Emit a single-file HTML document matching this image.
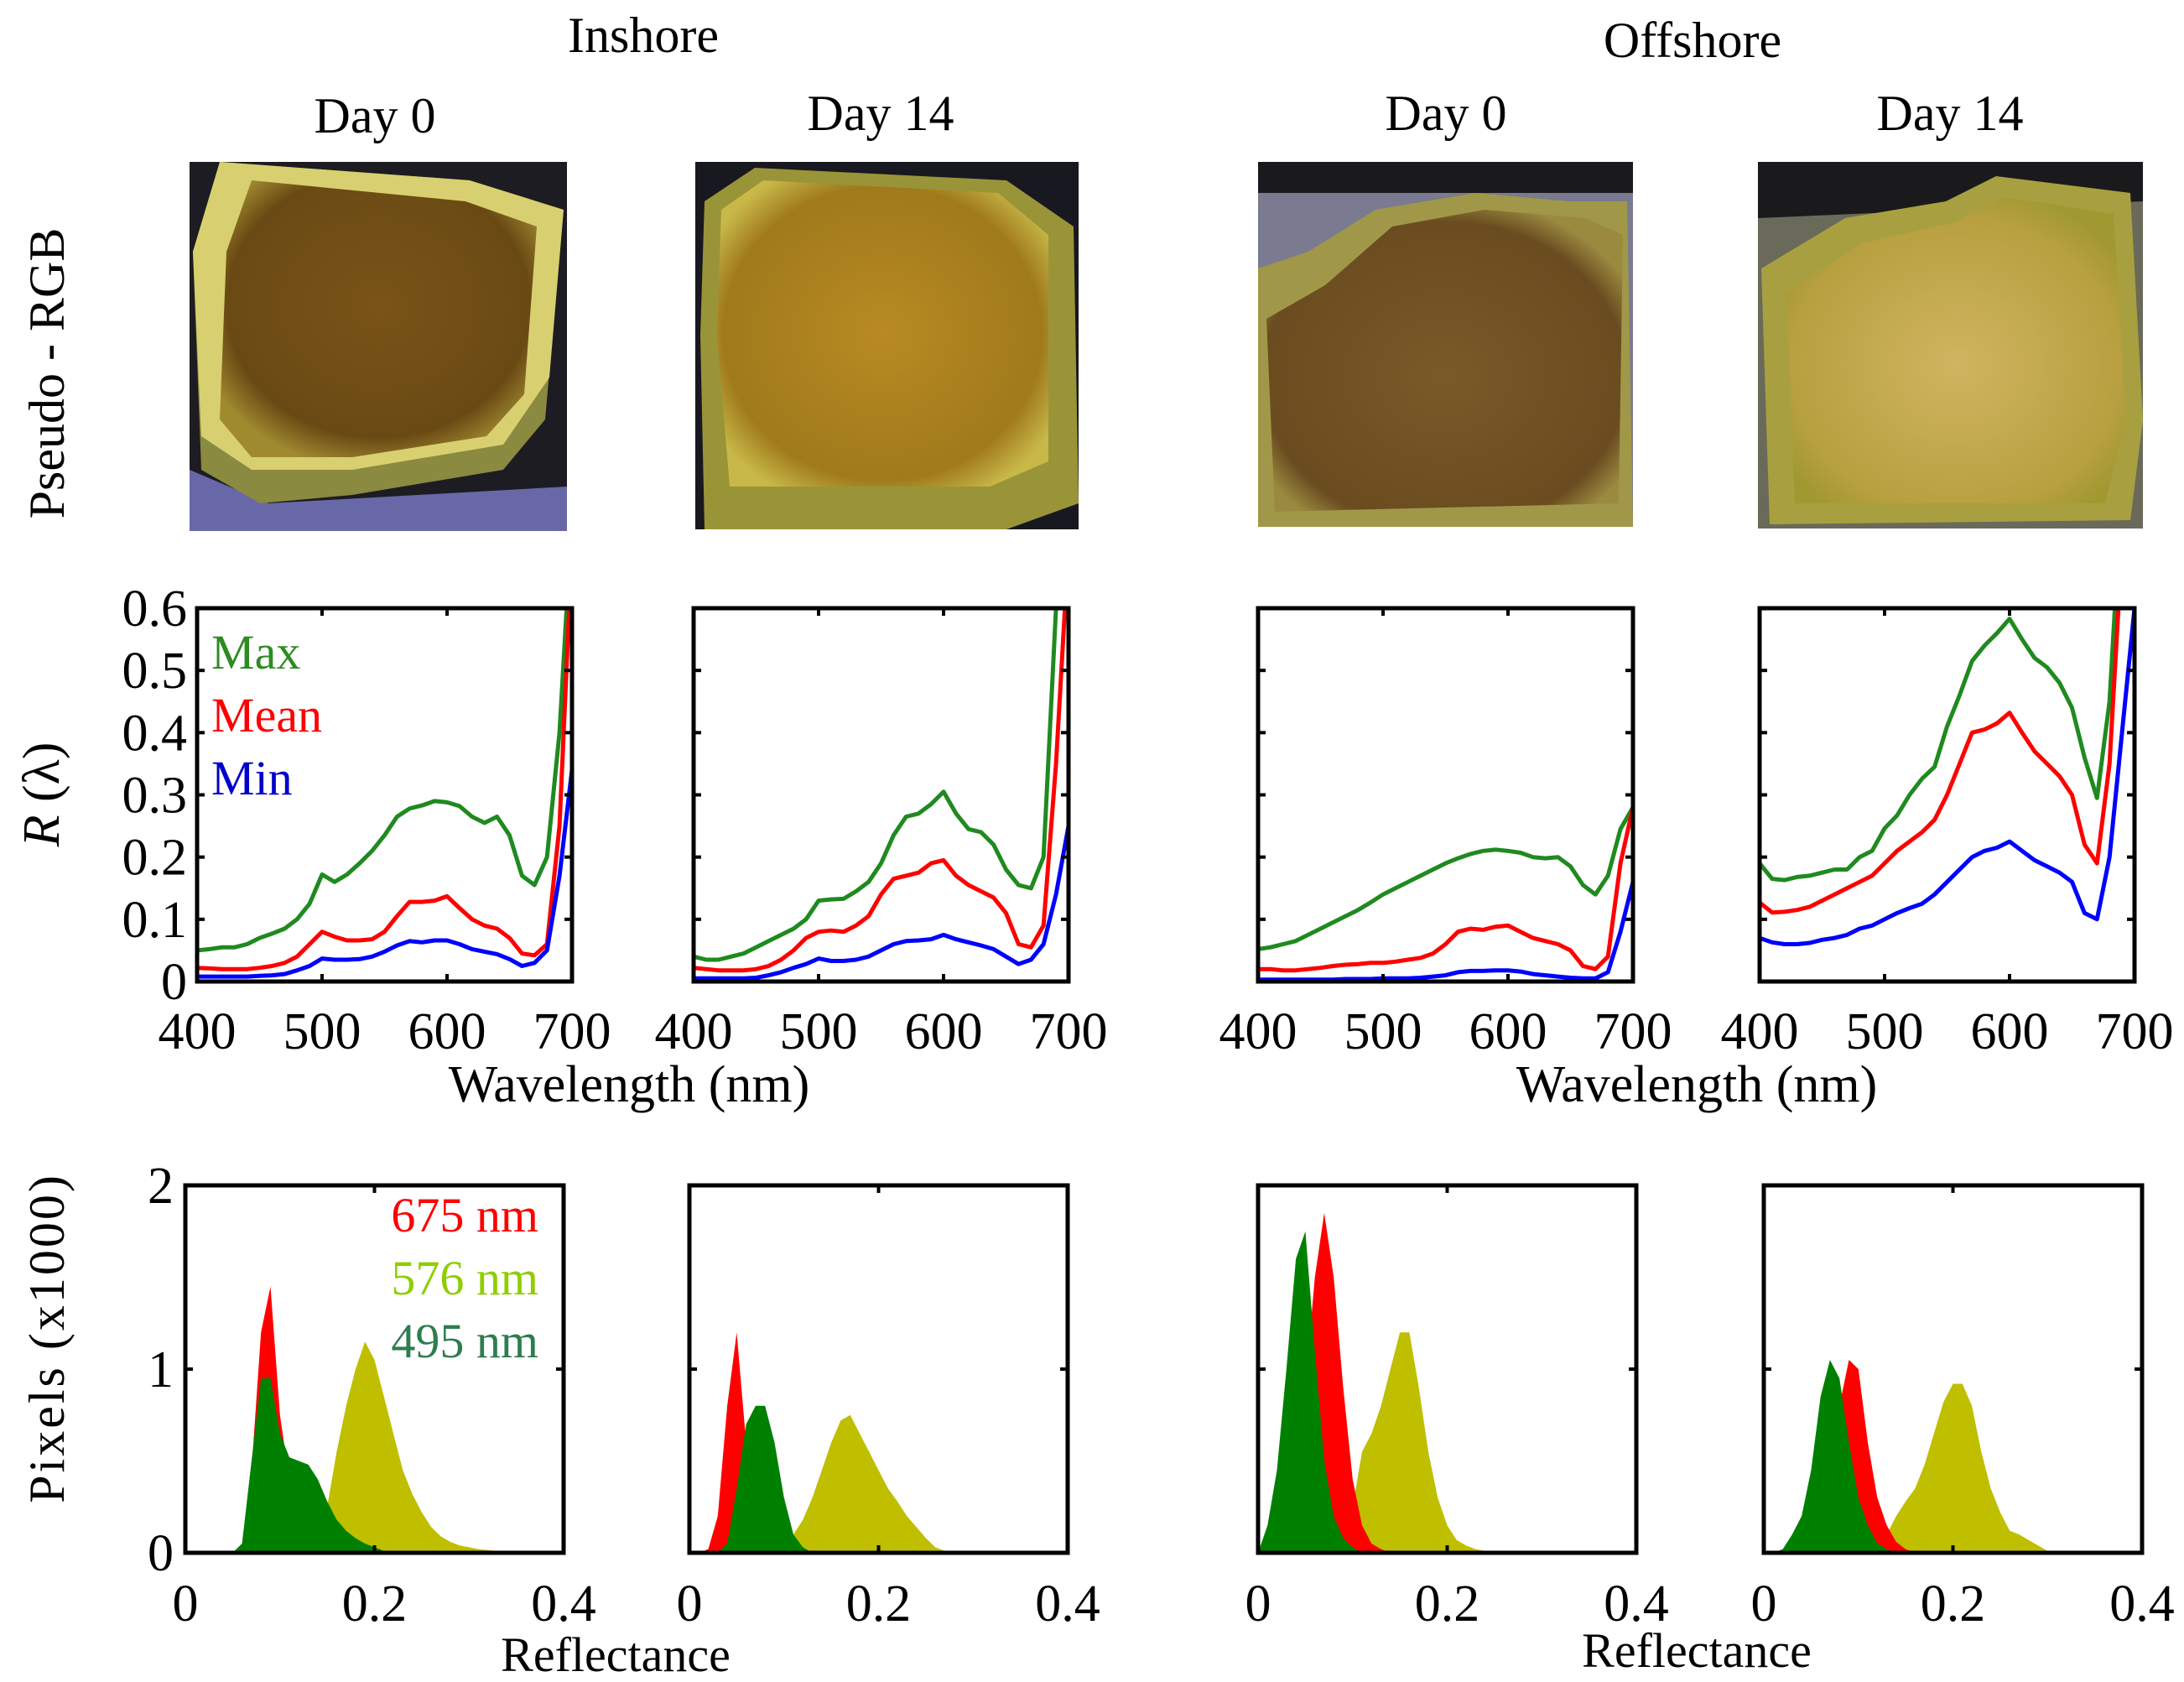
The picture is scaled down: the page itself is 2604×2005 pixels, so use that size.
<!DOCTYPE html>
<html><head><meta charset="utf-8">
<style>
html,body{margin:0;padding:0;background:#fff;}
svg{display:block;font-family:"Liberation Serif",serif;}
</style></head>
<body>
<svg id="fig" width="2604" height="2005" viewBox="0 0 2604 2005" xmlns="http://www.w3.org/2000/svg">
<defs>
<radialGradient id="g1" cx="50%" cy="45%" r="60%"><stop offset="0" stop-color="#7a5418"/><stop offset="0.8" stop-color="#6a4a14"/><stop offset="1" stop-color="#a08a30"/></radialGradient>
<radialGradient id="g2" cx="50%" cy="50%" r="60%"><stop offset="0" stop-color="#b88a22"/><stop offset="0.8" stop-color="#a07a1c"/><stop offset="1" stop-color="#c8b848"/></radialGradient>
<radialGradient id="g3" cx="50%" cy="55%" r="60%"><stop offset="0" stop-color="#7a5a28"/><stop offset="0.85" stop-color="#6a4c20"/><stop offset="1" stop-color="#9a8a40"/></radialGradient>
<radialGradient id="g4" cx="50%" cy="55%" r="60%"><stop offset="0" stop-color="#d0b460"/><stop offset="0.8" stop-color="#b8a040"/><stop offset="1" stop-color="#a09830"/></radialGradient>
</defs>

<!-- headings -->
<text x="767" y="62" font-size="60" text-anchor="middle">Inshore</text>
<text x="2018" y="68" font-size="60" text-anchor="middle">Offshore</text>
<text x="447" y="158" font-size="60" text-anchor="middle">Day 0</text>
<text x="1050" y="155" font-size="60" text-anchor="middle">Day 14</text>
<text x="1724" y="155" font-size="60" text-anchor="middle">Day 0</text>
<text x="2325" y="155" font-size="60" text-anchor="middle">Day 14</text>
<text transform="translate(76,445) rotate(-90)" font-size="60" text-anchor="middle">Pseudo - RGB</text>

<!-- photos -->
<g>
<rect x="226" y="193" width="450" height="440" fill="#1c1c22"/>
<polygon points="226,560 320,600 676,580 676,633 226,633" fill="#6868a8"/>
<polygon points="262,193 560,215 672,250 650,500 600,560 420,590 310,600 240,560 230,300" fill="#8a8a40"/>
<polygon points="262,193 560,215 672,250 655,450 600,530 420,560 300,560 240,520 230,300" fill="#d8d070"/>
<polygon points="300,215 555,240 640,270 625,470 580,520 420,545 300,545 262,500 270,300" fill="url(#g1)"/>
</g>
<g>
<rect x="829" y="193" width="457" height="438" fill="#181820"/>
<polygon points="840,240 900,200 1200,215 1280,270 1286,600 1200,631 840,631 835,400" fill="#9a9438"/>
<polygon points="860,250 910,215 1190,230 1250,280 1250,550 1180,580 870,580 855,400" fill="url(#g2)"/>
</g>
<g>
<rect x="1500" y="193" width="447" height="435" fill="#1a1a1e"/>
<polygon points="1500,230 1947,230 1947,628 1500,628" fill="#7a7a90"/>
<polygon points="1500,320 1560,300 1640,250 1760,230 1870,240 1940,240 1947,628 1500,628" fill="#a09848"/>
<polygon points="1510,380 1580,340 1660,270 1770,250 1890,260 1935,280 1930,600 1520,610" fill="url(#g3)"/>
</g>
<g>
<rect x="2096" y="193" width="459" height="437" fill="#1a1a1c"/>
<polygon points="2096,260 2555,240 2555,630 2096,630" fill="#6a6a5a"/>
<polygon points="2100,320 2200,260 2320,240 2380,210 2540,230 2555,500 2540,620 2110,625" fill="#a8a040"/>
<polygon points="2130,350 2220,290 2330,265 2390,235 2520,255 2535,500 2510,600 2140,600" fill="url(#g4)"/>
</g>

<g id="spectral"></g>
<g id="hist"></g>

<!-- axis titles -->
<text transform="translate(70,947) rotate(-90)" font-size="62" text-anchor="middle"><tspan font-style="italic">R</tspan> (λ)</text>
<text x="750" y="1313" font-size="62" text-anchor="middle">Wavelength (nm)</text>
<text x="2023" y="1313" font-size="62" text-anchor="middle">Wavelength (nm)</text>
<text transform="translate(76,1595) rotate(-90)" font-size="60" text-anchor="middle" letter-spacing="3">Pixels (x1000)</text>
<text x="734" y="1992" font-size="58" text-anchor="middle">Reflectance</text>
<text x="2023" y="1987" font-size="58" text-anchor="middle">Reflectance</text>

<!-- legends -->
<text x="252" y="797" font-size="58" fill="#2e8b22">Max</text>
<text x="252" y="872" font-size="58" fill="#ff0000">Mean</text>
<text x="252" y="947" font-size="58" fill="#0000cc">Min</text>
<text x="642" y="1468" font-size="58" fill="#ff0000" text-anchor="end">675 nm</text>
<text x="642" y="1543" font-size="58" fill="#8fce00" text-anchor="end">576 nm</text>
<text x="642" y="1618" font-size="58" fill="#2e7d4f" text-anchor="end">495 nm</text>
</svg>

<script>
// ---------- spectral data (R at 400..700 nm, step 10) ----------
const wavelengths = [400,410,420,430,440,450,460,470,480,490,500,510,520,530,540,550,560,570,580,590,600,610,620,630,640,650,660,670,680,690,700];
const specXTicks = [400,500,600,700];
const specYTicks = [0,0.1,0.2,0.3,0.4,0.5,0.6];
const specYTickLabels = ["0","0.1","0.2","0.3","0.4","0.5","0.6"];

const s1Max  = [0.05,0.052,0.055,0.055,0.06,0.07,0.077,0.085,0.1,0.125,0.172,0.16,0.172,0.19,0.21,0.235,0.265,0.278,0.283,0.29,0.288,0.282,0.265,0.255,0.265,0.235,0.17,0.155,0.2,0.4,0.75];
const s1Mean = [0.022,0.021,0.02,0.02,0.02,0.022,0.025,0.03,0.04,0.06,0.08,0.072,0.066,0.066,0.068,0.08,0.105,0.128,0.128,0.13,0.137,0.118,0.1,0.09,0.085,0.07,0.045,0.042,0.06,0.25,0.7];
const s1Min  = [0.008,0.008,0.008,0.008,0.008,0.009,0.01,0.012,0.018,0.025,0.037,0.035,0.035,0.036,0.04,0.048,0.058,0.065,0.063,0.066,0.066,0.06,0.052,0.048,0.044,0.036,0.025,0.03,0.05,0.17,0.34];

const s2Max  = [0.04,0.035,0.035,0.04,0.045,0.055,0.065,0.075,0.085,0.1,0.13,0.132,0.133,0.145,0.16,0.19,0.235,0.265,0.27,0.285,0.305,0.27,0.245,0.24,0.22,0.18,0.155,0.15,0.2,0.6,0.9];
const s2Mean = [0.022,0.02,0.018,0.018,0.018,0.02,0.025,0.035,0.05,0.07,0.08,0.082,0.08,0.09,0.105,0.14,0.165,0.17,0.175,0.19,0.195,0.17,0.155,0.145,0.135,0.11,0.06,0.055,0.09,0.35,0.7];
const s2Min  = [0.005,0.005,0.005,0.005,0.005,0.006,0.01,0.015,0.022,0.028,0.037,0.033,0.033,0.035,0.04,0.05,0.06,0.065,0.066,0.068,0.075,0.068,0.063,0.058,0.052,0.04,0.028,0.035,0.06,0.14,0.25];

const s3Max  = [0.052,0.055,0.06,0.065,0.075,0.085,0.095,0.105,0.115,0.127,0.14,0.15,0.16,0.17,0.18,0.19,0.198,0.205,0.21,0.212,0.21,0.207,0.2,0.198,0.2,0.185,0.155,0.14,0.17,0.245,0.28];
const s3Mean = [0.02,0.02,0.018,0.018,0.02,0.022,0.025,0.027,0.028,0.03,0.03,0.032,0.035,0.038,0.045,0.06,0.08,0.085,0.083,0.088,0.09,0.08,0.07,0.065,0.06,0.05,0.025,0.02,0.04,0.19,0.28];
const s3Min  = [0.003,0.003,0.003,0.003,0.003,0.003,0.003,0.004,0.004,0.004,0.005,0.005,0.005,0.006,0.008,0.01,0.015,0.017,0.017,0.018,0.018,0.016,0.012,0.01,0.008,0.006,0.005,0.005,0.015,0.08,0.16];

const s4Max  = [0.19,0.165,0.163,0.168,0.17,0.175,0.18,0.18,0.2,0.21,0.246,0.267,0.3,0.326,0.345,0.41,0.46,0.515,0.54,0.56,0.583,0.55,0.52,0.505,0.48,0.44,0.36,0.295,0.45,0.8,1.0];
const s4Mean = [0.127,0.111,0.112,0.115,0.12,0.13,0.14,0.15,0.16,0.17,0.19,0.21,0.225,0.24,0.26,0.3,0.35,0.4,0.405,0.415,0.432,0.4,0.37,0.35,0.33,0.3,0.22,0.19,0.35,0.7,1.0];
const s4Min  = [0.07,0.063,0.06,0.06,0.062,0.067,0.07,0.075,0.085,0.09,0.1,0.11,0.118,0.125,0.14,0.16,0.18,0.2,0.21,0.215,0.225,0.21,0.195,0.185,0.175,0.16,0.11,0.1,0.2,0.4,0.6];

// ---------- histogram data (counts x1000, bins at 0,0.01,...,0.40) ----------
const histXTicks = [0,0.2,0.4];
const histXTickLabels = ["0","0.2","0.4"];
const histYTicks = [0,1,2];
const h1Red    = [0,0,0,0,0,0,0.05,0.45,1.2,1.45,0.75,0.4,0.2,0.1,0.05,0.02,0];
const h1Yellow = [0,0,0,0,0,0,0,0,0,0,0,0,0,0,0.05,0.25,0.55,0.8,1.0,1.15,1.05,0.85,0.65,0.45,0.32,0.22,0.14,0.09,0.06,0.04,0.03,0.02,0.015,0.01,0.008,0.005,0];
const h1Green  = [0,0,0,0,0,0,0.05,0.5,0.95,0.95,0.65,0.52,0.5,0.48,0.4,0.28,0.18,0.12,0.08,0.05,0.03,0.01,0];
const h2Red    = [0,0,0.02,0.2,0.8,1.2,0.6,0.2,0.05,0];
const h2Yellow = [0,0,0,0,0,0,0,0,0,0,0.02,0.1,0.18,0.3,0.45,0.6,0.72,0.75,0.65,0.55,0.45,0.35,0.28,0.2,0.14,0.08,0.03,0.01,0];
const h2Green  = [0,0,0,0,0.05,0.35,0.7,0.8,0.8,0.6,0.3,0.1,0.03,0];
const h3Red    = [0,0,0,0,0.3,0.9,1.5,1.85,1.5,0.9,0.4,0.15,0.05,0.02,0];
const h3Yellow = [0,0,0,0,0,0,0,0,0,0.05,0.25,0.55,0.65,0.8,1.0,1.2,1.2,0.9,0.55,0.3,0.15,0.07,0.04,0.02,0.01,0.005,0];
const h3Green  = [0,0.15,0.45,1.0,1.6,1.75,1.1,0.5,0.2,0.08,0.03,0];
const h4Red    = [0,0,0,0,0,0,0,0.3,0.8,1.05,1.0,0.6,0.3,0.15,0.06,0.02,0];
const h4Yellow = [0,0,0,0,0,0,0,0,0,0,0,0,0,0.1,0.2,0.28,0.35,0.48,0.65,0.82,0.92,0.92,0.8,0.55,0.35,0.22,0.12,0.1,0.07,0.04,0.01,0];
const h4Green  = [0,0,0.02,0.1,0.2,0.45,0.85,1.05,0.95,0.6,0.3,0.15,0.05,0.02,0];

const NS = "http://www.w3.org/2000/svg";
function mk(tag, attrs, parent){
  const e = document.createElementNS(NS, tag);
  for (const k in attrs) e.setAttribute(k, attrs[k]);
  parent.appendChild(e);
  return e;
}
function scale(d0,d1,r0,r1){ return v => r0 + (v-d0)/(d1-d0)*(r1-r0); }

function drawAxesBox(g, L, R, T, B){
  const box = mk("rect", {x:L, y:T, width:R-L, height:B-T, fill:"none", stroke:"#000", "stroke-width":5}, g);
  
  
}

// ---------- spectral panels ----------
const specPanels = [
  {L:235,R:682,name:"spectra-inshore-day0",  mx:s1Max,mn:s1Mean,mi:s1Min, ylab:true},
  {L:827,R:1274,name:"spectra-inshore-day14",mx:s2Max,mn:s2Mean,mi:s2Min, ylab:false},
  {L:1500,R:1947,name:"spectra-offshore-day0",mx:s3Max,mn:s3Mean,mi:s3Min, ylab:false},
  {L:2098,R:2545,name:"spectra-offshore-day14",mx:s4Max,mn:s4Mean,mi:s4Min, ylab:false}
];
const specT = 725, specB = 1170;
const specG = document.getElementById("spectral");
specPanels.forEach((p, pi) => {
  const g = mk("g", {}, specG);
  
  
  const x = scale(400,700,p.L,p.R), y = scale(0,0.6,specB,specT);
  const cid = "clipS"+pi;
  const cp = mk("clipPath", {id:cid}, g);
  mk("rect", {x:p.L, y:specT, width:p.R-p.L, height:specB-specT}, cp);
  const series = [[p.mx,"#1f8a1f","max"],[p.mn,"#ff0000","mean"],[p.mi,"#0000ff","min"]];
  series.forEach(([arr,col,nm]) => {
    const pts = arr.map((v,i)=> x(wavelengths[i]).toFixed(1)+","+y(v).toFixed(1)).join(" ");
    const ln = mk("polyline", {points:pts, fill:"none", stroke:col, "stroke-width":5, "stroke-linejoin":"round", "clip-path":"url(#"+cid+")"}, g);
    
    
  });
  drawAxesBox(g, p.L, p.R, specT, specB);
  specXTicks.forEach(t => {
    mk("line", {x1:x(t), x2:x(t), y1:specB, y2:specB-9, stroke:"#000", "stroke-width":4}, g);
    mk("line", {x1:x(t), x2:x(t), y1:specT, y2:specT+9, stroke:"#000", "stroke-width":4}, g);
    const tl = mk("text", {x:x(t), y:1250, "font-size":62, "text-anchor":"middle"}, g);
    
    
    tl.textContent = String(t);
  });
  specYTicks.forEach((t,i) => {
    mk("line", {x1:p.L, x2:p.L+9, y1:y(t), y2:y(t), stroke:"#000", "stroke-width":4}, g);
    mk("line", {x1:p.R, x2:p.R-9, y1:y(t), y2:y(t), stroke:"#000", "stroke-width":4}, g);
    if (p.ylab){
      const tl = mk("text", {x:p.L-12, y:y(t)+21, "font-size":62, "text-anchor":"end"}, g);
      
      
      tl.textContent = specYTickLabels[i];
    }
  });
});

// ---------- histogram panels ----------
const histPanels = [
  {L:221,R:672,name:"hist-inshore-day0",  r:h1Red,y:h1Yellow,g:h1Green, ylab:true},
  {L:822,R:1273,name:"hist-inshore-day14",r:h2Red,y:h2Yellow,g:h2Green, ylab:false},
  {L:1500,R:1951,name:"hist-offshore-day0",r:h3Red,y:h3Yellow,g:h3Green, ylab:false},
  {L:2103,R:2554,name:"hist-offshore-day14",r:h4Red,y:h4Yellow,g:h4Green, ylab:false}
];
const histT = 1413, histB = 1851, binStep = 0.01;
const histG = document.getElementById("hist");
histPanels.forEach(p => {
  const g = mk("g", {}, histG);
  
  
  const x = scale(0,0.4,p.L,p.R), y = scale(0,2,histB,histT);
  const series = [[p.y,"#bfbf00","576nm"],[p.r,"#ff0000","675nm"],[p.g,"#008000","495nm"]];
  series.forEach(([arr,col,nm]) => {
    let pts = x(0).toFixed(1)+","+histB;
    arr.forEach((v,i) => { pts += " "+x(i*binStep).toFixed(1)+","+y(v).toFixed(1); });
    pts += " "+x((arr.length-1)*binStep).toFixed(1)+","+histB;
    const a = mk("polygon", {points:pts, fill:col, stroke:"none"}, g);
    
    
  });
  drawAxesBox(g, p.L, p.R, histT, histB);
  histXTicks.forEach((t,i) => {
    mk("line", {x1:x(t), x2:x(t), y1:histB, y2:histB-9, stroke:"#000", "stroke-width":4}, g);
    mk("line", {x1:x(t), x2:x(t), y1:histT, y2:histT+9, stroke:"#000", "stroke-width":4}, g);
    const tl = mk("text", {x:x(t), y:1932, "font-size":62, "text-anchor":"middle"}, g);
    
    
    tl.textContent = histXTickLabels[i];
  });
  histYTicks.forEach(t => {
    mk("line", {x1:p.L, x2:p.L+9, y1:y(t), y2:y(t), stroke:"#000", "stroke-width":4}, g);
    mk("line", {x1:p.R, x2:p.R-9, y1:y(t), y2:y(t), stroke:"#000", "stroke-width":4}, g);
    if (p.ylab){
      const tl = mk("text", {x:p.L-14, y:y(t)+21, "font-size":62, "text-anchor":"end"}, g);
      
      
      tl.textContent = String(t);
    }
  });
});
</script>
</body></html>
